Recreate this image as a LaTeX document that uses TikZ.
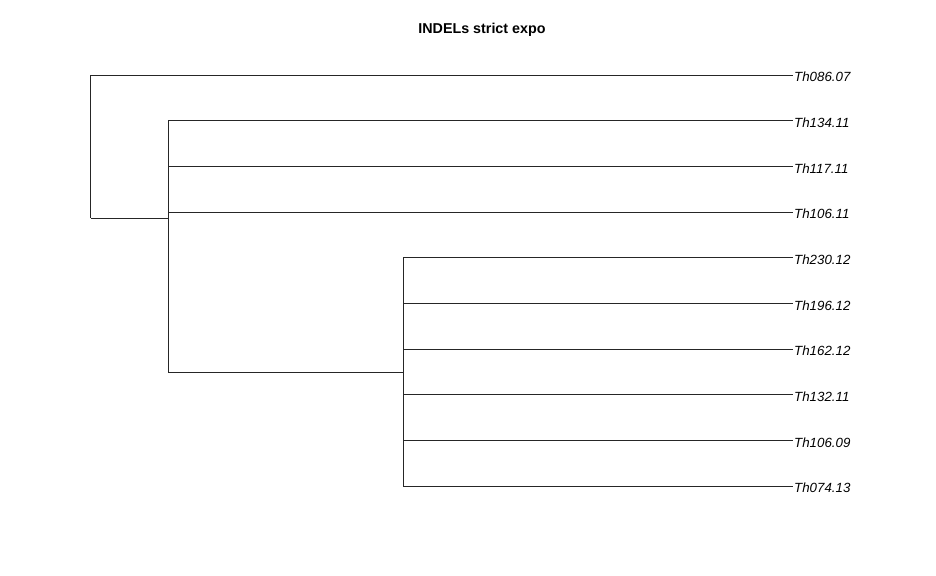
\documentclass[tikz,border=0pt]{standalone}
\usepackage{fontspec}
\setmainfont{Liberation Sans}
\begin{document}
\begin{tikzpicture}[x=1bp,y=-1bp,
  leaf/.style={anchor=base west,inner sep=0pt,font=\fontsize{13.3bp}{15bp}\selectfont\itshape},
  branch/.style={line width=0.8bp,draw=black!85}]
\useasboundingbox (0,0) rectangle (936,576);
\node[font=\fontsize{14.3bp}{16bp}\selectfont\bfseries] (title) at (482,29.5) {INDELs strict expo};
% leaf tips
\coordinate (e1) at (793,75);
\coordinate (e2) at (793,120.7);
\coordinate (e3) at (793,166.4);
\coordinate (e4) at (793,212.1);
\coordinate (e5) at (793,257.8);
\coordinate (e6) at (793,303.4);
\coordinate (e7) at (793,349.1);
\coordinate (e8) at (793,394.8);
\coordinate (e9) at (793,440.5);
\coordinate (e10) at (793,486.2);
% labels
\node[leaf] (l1) at ([xshift=1bp,yshift=-6.7bp]e1) {Th086.07};
\node[leaf] (l2) at ([xshift=1bp,yshift=-6.7bp]e2) {Th134.11};
\node[leaf] (l3) at ([xshift=1bp,yshift=-6.7bp]e3) {Th117.11};
\node[leaf] (l4) at ([xshift=1bp,yshift=-6.7bp]e4) {Th106.11};
\node[leaf] (l5) at ([xshift=1bp,yshift=-6.7bp]e5) {Th230.12};
\node[leaf] (l6) at ([xshift=1bp,yshift=-6.7bp]e6) {Th196.12};
\node[leaf] (l7) at ([xshift=1bp,yshift=-6.7bp]e7) {Th162.12};
\node[leaf] (l8) at ([xshift=1bp,yshift=-6.7bp]e8) {Th132.11};
\node[leaf] (l9) at ([xshift=1bp,yshift=-6.7bp]e9) {Th106.09};
\node[leaf] (l10) at ([xshift=1bp,yshift=-6.7bp]e10) {Th074.13};
% internal nodes
\coordinate (root) at (90.5,218);
\coordinate (inn) at (168.3,218);
\coordinate (sub) at (403.3,372);
\draw[branch] (root) |- (e1);
\draw[branch] (root) -- (inn);
\draw[branch] (inn) |- (e2);
\draw[branch] (inn) |- (e3);
\draw[branch] (inn) |- (e4);
\draw[branch] (inn) |- (sub);
\draw[branch] (sub) |- (e5);
\draw[branch] (sub) |- (e6);
\draw[branch] (sub) |- (e7);
\draw[branch] (sub) |- (e8);
\draw[branch] (sub) |- (e9);
\draw[branch] (sub) |- (e10);
\end{tikzpicture}
\end{document}
